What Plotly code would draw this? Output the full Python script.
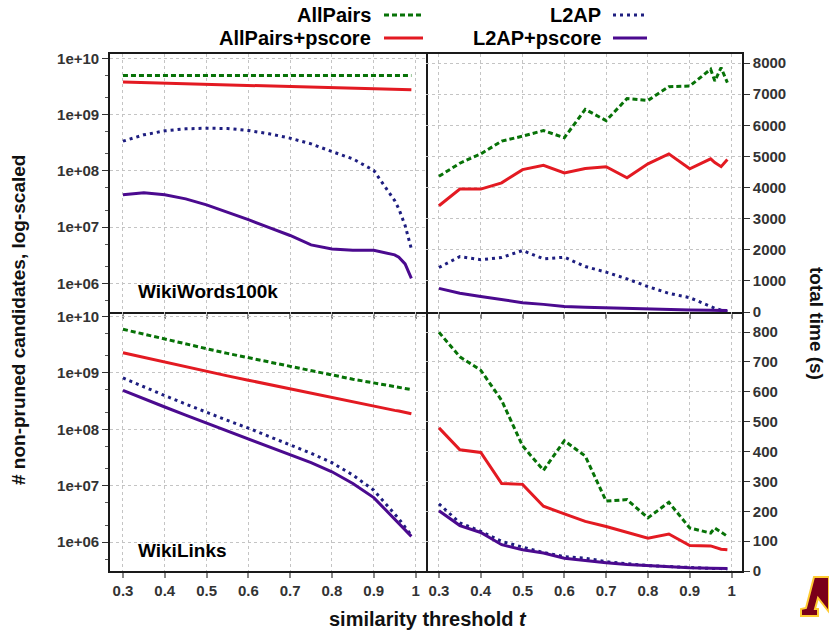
import plotly.graph_objects as go

W, H = 829, 630

# ---------------- data ----------------
thresholds = [0.3, 0.35, 0.4, 0.45, 0.5, 0.55, 0.6, 0.65, 0.7, 0.75, 0.8, 0.85, 0.9, 0.95, 0.96, 0.975, 0.99]
x_ticks = [0.3, 0.4, 0.5, 0.6, 0.7, 0.8, 0.9, 1.0]
x_ticktext = ["0.3", "0.4", "0.5", "0.6", "0.7", "0.8", "0.9", "1"]
log_ticks = [1e6, 1e7, 1e8, 1e9, 1e10]
log_ticktext = ["1e+06", "1e+07", "1e+08", "1e+09", "1e+10"]
log_minor_ticks = [2e5, 5e5, 2e6, 5e6, 2e7, 5e7, 2e8, 5e8, 2e9, 5e9]
time_ticks_ww = [0, 1000, 2000, 3000, 4000, 5000, 6000, 7000, 8000]
time_ticks_wl = [0, 100, 200, 300, 400, 500, 600, 700, 800]

series_names = ["AllPairs", "AllPairs+pscore", "L2AP", "L2AP+pscore"]

# WikiWords100k: candidates
ww_cand_allpairs = [5.0e9] * 17
ww_cand_allpairs_ps = [3.80e9, 3.71e9, 3.63e9, 3.55e9, 3.47e9, 3.39e9, 3.31e9, 3.24e9, 3.16e9,
                       3.09e9, 3.02e9, 2.95e9, 2.89e9, 2.82e9, 2.81e9, 2.79e9, 2.77e9]
ww_cand_l2ap = [3.38e8, 4.39e8, 5.16e8, 5.61e8, 5.75e8, 5.68e8, 5.24e8, 4.57e8, 3.82e8,
                3.03e8, 2.21e8, 1.64e8, 1.02e8, 2.97e7, 2.11e7, 1.07e7, 4.1e6]
ww_cand_l2ap_ps = [3.75e7, 4.07e7, 3.75e7, 3.18e7, 2.49e7, 1.85e7, 1.36e7, 9.8e6, 7.1e6,
                   4.83e6, 4.1e6, 3.88e6, 3.88e6, 3.21e6, 2.92e6, 2.22e6, 1.23e6]

# WikiWords100k: time (s)
ww_time_allpairs = [4360, 4780, 5080, 5490, 5650, 5830, 5600, 6510, 6150, 6860, 6800, 7240, 7260, 7800, 7420, 7850, 7370]
ww_time_allpairs_ps = [3415, 3950, 3950, 4150, 4575, 4715, 4470, 4610, 4670, 4310, 4760, 5080, 4600, 4920, 4800, 4670, 4900]
ww_time_l2ap = [1430, 1780, 1680, 1750, 1975, 1710, 1760, 1460, 1280, 1065, 815, 600, 460, 170, 120, 60, 10]
ww_time_l2ap_ps = [760, 600, 495, 390, 300, 245, 180, 150, 130, 105, 85, 75, 65, 55, 52, 48, 45]

# WikiLinks: candidates
wl_cand_allpairs = [5.94e9, 4.84e9, 4.00e9, 3.26e9, 2.69e9, 2.22e9, 1.86e9, 1.56e9, 1.28e9,
                    1.07e9, 9.0e8, 7.74e8, 6.67e8, 5.73e8, 5.58e8, 5.35e8, 5.07e8]
wl_cand_allpairs_ps = [2.28e9, 1.88e9, 1.56e9, 1.28e9, 1.07e9, 8.87e8, 7.43e8, 6.22e8, 5.21e8,
                       4.30e8, 3.60e8, 3.01e8, 2.56e8, 2.17e8, 2.11e8, 2.00e8, 1.89e8]
wl_cand_l2ap = [8.18e8, 5.65e8, 3.96e8, 2.81e8, 2.00e8, 1.44e8, 1.05e8, 7.46e7, 5.30e7,
                3.77e7, 2.57e7, 1.55e7, 8.36e6, 3.21e6, 2.61e6, 1.85e6, 1.32e6]
wl_cand_l2ap_ps = [4.93e8, 3.45e8, 2.49e8, 1.79e8, 1.29e8, 9.29e7, 6.69e7, 4.88e7, 3.52e7,
                   2.57e7, 1.77e7, 1.10e7, 6.18e6, 2.61e6, 2.19e6, 1.66e6, 1.27e6]

# WikiLinks: time (s)
wl_time_allpairs = [799, 717, 672, 571, 419, 337, 436, 385, 234, 239, 178, 230, 144, 127, 144, 130, 116]
wl_time_allpairs_ps = [479, 406, 397, 293, 290, 217, 191, 166, 149, 129, 110, 124, 85, 84, 80, 73, 71]
wl_time_l2ap = [225, 161, 133, 99, 80, 62, 48, 43, 31, 24, 18, 15, 11, 9, 8, 8, 7]
wl_time_l2ap_ps = [202, 152, 129, 88, 71, 60, 43, 35, 28, 22, 18, 15, 11, 9, 9, 8, 8]

# ---------------- styles ----------------
styles = {
    "AllPairs": dict(color="#077207", width=3, dash="5px,3px"),
    "AllPairs+pscore": dict(color="#e31a22", width=3, dash="solid"),
    "L2AP": dict(color="#1e1e80", width=3, dash="3px,4px"),
    "L2AP+pscore": dict(color="#4b0a8f", width=3, dash="solid"),
}

FONT = "Liberation Sans"
TXT = "#333333"


def px(x):
    return x / W


def py(y):
    return 1 - y / H


fig = go.Figure()

panels = [
    ("x", "y", [ww_cand_allpairs, ww_cand_allpairs_ps, ww_cand_l2ap, ww_cand_l2ap_ps]),
    ("x2", "y2", [ww_time_allpairs, ww_time_allpairs_ps, ww_time_l2ap, ww_time_l2ap_ps]),
    ("x3", "y3", [wl_cand_allpairs, wl_cand_allpairs_ps, wl_cand_l2ap, wl_cand_l2ap_ps]),
    ("x4", "y4", [wl_time_allpairs, wl_time_allpairs_ps, wl_time_l2ap, wl_time_l2ap_ps]),
]
draw_order = [2, 3, 1, 0]
for xa, ya, data in panels:
    for i in draw_order:
        name = series_names[i]
        fig.add_trace(go.Scatter(
            x=thresholds, y=data[i], mode="lines", name=name,
            line=dict(**styles[name], shape="linear"),
            xaxis=xa, yaxis=ya, showlegend=False, hoverinfo="skip",
        ))

# ---------------- layout ----------------
L, M, R = 110, 426, 742
T, MID, B = 54, 312, 571
xdomL = [px(L), px(M)]
xdomR = [px(M), px(R)]
ydomT = [py(MID), py(T)]
ydomB = [py(B), py(MID)]
xrange_ = [0.269, 1.025]

tickfont = dict(family=FONT, size=15, color=TXT, weight="bold")
grid = dict(showgrid=True, gridcolor="#c4c4c4", gridwidth=1, griddash="dot")
LINEC = "#1a1a1a"
LW = 1.6


def xaxis_cfg(domain, anchor, labels, mirror):
    return dict(domain=domain, anchor=anchor, range=xrange_, tickmode="array", tickvals=x_ticks,
                ticktext=x_ticktext, ticks="outside", ticklen=5, tickcolor="#888888", tickwidth=1.5,
                tickfont=tickfont, showticklabels=labels, zeroline=False, automargin=False,
                showline=True, linecolor=LINEC, linewidth=LW, mirror=mirror, **grid)


def logy_cfg(domain, anchor):
    return dict(domain=domain, anchor=anchor, type="log", range=[5.49, 10.08], tickmode="array",
                tickvals=log_ticks, ticktext=log_ticktext, ticks="outside", ticklen=6,
                tickcolor="#333333", tickfont=tickfont, zeroline=False, automargin=False,
                minor=dict(ticks="outside", ticklen=3, tickcolor="#555555", tickmode="array",
                           tickvals=log_minor_ticks, showgrid=False),
                showline=True, linecolor=LINEC, linewidth=LW, mirror=True, **grid)


def timey_cfg(domain, anchor, rng, tv):
    return dict(domain=domain, anchor=anchor, side="right", range=rng, tickmode="array",
                tickvals=tv, ticks="outside", ticklen=6, tickcolor="#333333", tickfont=tickfont,
                zeroline=False, automargin=False, showline=True, linecolor=LINEC, linewidth=LW,
                mirror=False, **grid)


fig.update_layout(
    template="none",
    width=W, height=H, margin=dict(l=0, r=0, t=0, b=0, pad=0, autoexpand=False),
    paper_bgcolor="white", plot_bgcolor="white",
    xaxis=xaxis_cfg(xdomL, "y", False, True),
    xaxis2=xaxis_cfg(xdomR, "y2", False, True),
    xaxis3=xaxis_cfg(xdomL, "y3", True, False),
    xaxis4=xaxis_cfg(xdomR, "y4", True, False),
    yaxis=logy_cfg(ydomT, "x"),
    yaxis3=logy_cfg(ydomB, "x3"),
    yaxis2=timey_cfg(ydomT, "x2", [0, 8290], time_ticks_ww),
    yaxis4=timey_cfg(ydomB, "x4", [0, 867], time_ticks_wl),
    font=dict(family=FONT, color="black"),
    showlegend=False,
)

annotations = []
shapes = []

# legend (gnuplot style: text right-aligned, sample on the right)
legend_items = [
    ("AllPairs", 373, 15, 384, 423),
    ("AllPairs+pscore", 373, 38, 384, 423),
    ("L2AP", 603, 15, 613, 647),
    ("L2AP+pscore", 603, 38, 613, 647),
]
for name, tx, ty, sx0, sx1 in legend_items:
    annotations.append(dict(text="<b>" + name + "</b>", x=px(tx), y=py(ty), xref="paper", yref="paper",
                            xanchor="right", yanchor="middle", showarrow=False,
                            font=dict(family=FONT, size=20, color="black")))
    st = styles[name]
    shapes.append(dict(type="line", xref="paper", yref="paper", x0=px(sx0), x1=px(sx1),
                       y0=py(ty), y1=py(ty), line=dict(color=st["color"], width=st["width"], dash=st["dash"])))

# panel labels
annotations.append(dict(text="<b>WikiWords100k</b>", x=px(136), y=py(291), xref="paper", yref="paper",
                        xanchor="left", yanchor="middle", showarrow=False,
                        font=dict(family=FONT, size=19, color="black")))
annotations.append(dict(text="<b>WikiLinks</b>", x=px(136), y=py(550), xref="paper", yref="paper",
                        xanchor="left", yanchor="middle", showarrow=False,
                        font=dict(family=FONT, size=19, color="black")))

# axis titles
annotations.append(dict(text="<b>similarity threshold <i>t</i></b>", x=px(428), y=py(619),
                        xref="paper", yref="paper", xanchor="center", yanchor="middle", showarrow=False,
                        font=dict(family=FONT, size=20, color="#111111")))
annotations.append(dict(text="<b># non-pruned candidates, log-scaled</b>", x=px(18), y=py(320),
                        xref="paper", yref="paper", xanchor="center", yanchor="middle", showarrow=False,
                        textangle=-90, font=dict(family=FONT, size=19, color="#111111")))
annotations.append(dict(text="<b>total time (s)</b>", x=px(817), y=py(323),
                        xref="paper", yref="paper", xanchor="center", yanchor="middle", showarrow=False,
                        textangle=90, font=dict(family=FONT, size=19, color="#111111")))

# small cropped logo in the corner (decorative)
logo_pts = [(801, 616), (818, 616), (818, 609), (815, 609), (818, 598), (829, 612),
            (829, 577), (814, 577), (806, 608), (801, 609)]
path = "M " + " L ".join(f"{px(a):.5f},{py(b):.5f}" for a, b in logo_pts) + " Z"
shapes.append(dict(type="path", xref="paper", yref="paper", path=path,
                   fillcolor="#7a0019", line=dict(color="#ffcc33", width=2)))

fig.update_layout(annotations=annotations, shapes=shapes)

fig.write_html("out.html")
